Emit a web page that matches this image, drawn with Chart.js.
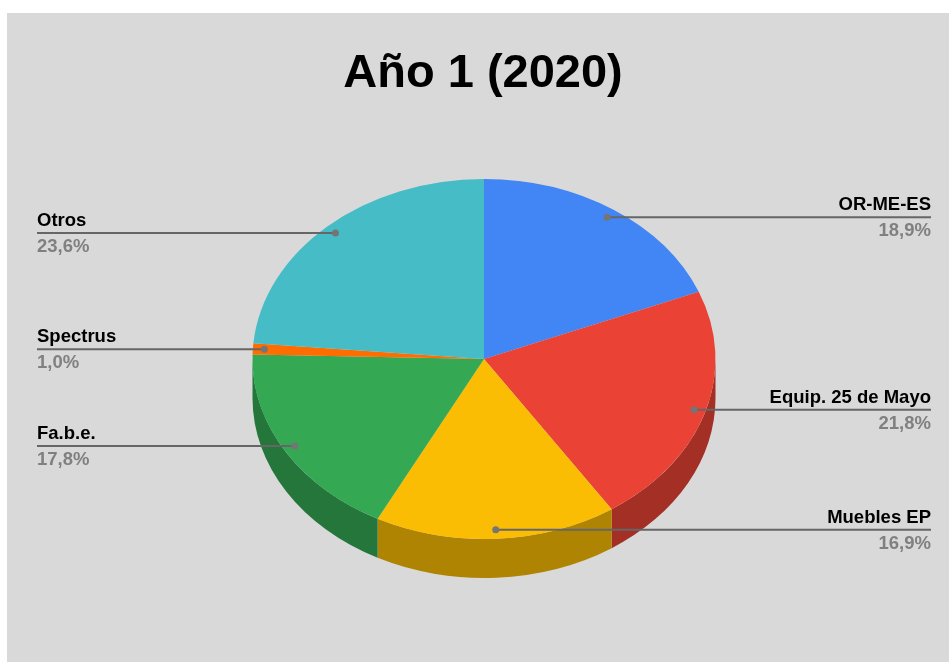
<!DOCTYPE html>
<html>
<head>
<meta charset="utf-8">
<script src="https://cdn.jsdelivr.net/npm/chart.js@4"></script>
<style>
  html, body { margin: 0; padding: 0; background: #ffffff; }
  canvas { display: block; }
</style>
</head>
<body>
<canvas id="pieChart" width="949" height="662"></canvas>
<script>
const chartTitle = "Año 1 (2020)";
const labels = ["OR-ME-ES", "Equip. 25 de Mayo", "Muebles EP", "Fa.b.e.", "Spectrus", "Otros"];
const values = [18.9, 21.8, 16.9, 17.8, 1.0, 23.6];
const colors = ["#4285F4", "#EA4335", "#FBBC04", "#34A853", "#FF6D01", "#46BDC6"];
const sideColors = ["#2E5DAB", "#A42F25", "#B08403", "#24763A", "#B34C01", "#31848B"];

const tilt = 0.7775;   // vertical squash of the pie
const depth = 39;      // thickness of the 3d side
const font = "'Liberation Sans', Arial, sans-serif";

const fmtPct = v => v.toFixed(1).replace(".", ",") + "%";

const pie3d = {
    id: "pie3d",
    beforeDraw(chart) {
        const ctx = chart.ctx;
        ctx.save();
        ctx.fillStyle = "#d9d9d9";
        ctx.fillRect(7, 13, chart.width - 7, chart.height - 13);
        ctx.restore();
    },
    beforeDatasetsDraw(chart) {
        const ctx = chart.ctx;
        const arcs = chart.getDatasetMeta(0).data;
        // sides first, only the front half (0..PI) is visible
        arcs.forEach((arc, i) => {
            const { x, y, startAngle, endAngle, outerRadius } = arc.getProps(["x", "y", "startAngle", "endAngle", "outerRadius"], true);
            const a = Math.max(startAngle, 0);
            const b = Math.min(endAngle, Math.PI);
            if (b <= a) return;
            ctx.beginPath();
            ctx.ellipse(x, y, outerRadius, outerRadius * tilt, 0, a, b, false);
            ctx.ellipse(x, y + depth, outerRadius, outerRadius * tilt, 0, b, a, true);
            ctx.closePath();
            ctx.fillStyle = sideColors[i];
            ctx.fill();
        });
        const cx = arcs[0].x, cy = arcs[0].y;
        ctx.save();
        ctx.translate(cx, cy);
        ctx.scale(1, tilt);
        ctx.translate(-cx, -cy);
    },
    afterDatasetsDraw(chart) {
        const ctx = chart.ctx;
        ctx.restore();
        const arcs = chart.getDatasetMeta(0).data;
        arcs.forEach((arc, i) => {
            const { x, y, startAngle, endAngle, outerRadius } = arc.getProps(["x", "y", "startAngle", "endAngle", "outerRadius"], true);
            const mid = (startAngle + endAngle) / 2;
            const px = x + Math.cos(mid) * outerRadius * 0.95;
            const py = y + Math.sin(mid) * outerRadius * 0.95 * tilt;
            const right = px > x;
            const endX = right ? 931 : 37;

            ctx.strokeStyle = "#666666";
            ctx.lineWidth = 2;
            ctx.beginPath();
            ctx.moveTo(px, py);
            ctx.lineTo(endX, py);
            ctx.stroke();

            ctx.fillStyle = "#757575";
            ctx.beginPath();
            ctx.arc(px, py, 3.5, 0, Math.PI * 2);
            ctx.fill();

            ctx.textAlign = right ? "right" : "left";
            ctx.textBaseline = "alphabetic";
            ctx.font = "bold 18.5px " + font;
            ctx.fillStyle = "#000000";
            ctx.fillText(labels[i], endX, py - 7);
            ctx.fillStyle = "#808080";
            ctx.fillText(fmtPct(values[i]), endX, py + 19);
        });
    },
    afterDraw(chart) {
        const ctx = chart.ctx;
        ctx.save();
        ctx.font = "bold 47px " + font;
        ctx.fillStyle = "#000000";
        ctx.textAlign = "center";
        ctx.textBaseline = "alphabetic";
        ctx.fillText(chartTitle, 483, 87);
        ctx.restore();
    }
};

new Chart(document.getElementById("pieChart"), {
    type: "pie",
    data: {
        labels: labels,
        datasets: [{
            data: values,
            backgroundColor: colors,
            borderWidth: 0,
            radius: 231.5,
            clip: false,
        }],
    },
    options: {
        responsive: false,
        animation: false,
        layout: {
            padding: { left: 19, right: 0, top: 56, bottom: 0 },
        },
        plugins: {
            legend: { display: false },
            title: { display: false },
            tooltip: { enabled: false },
        },
    },
    plugins: [pie3d],
});
</script>
</body>
</html>
